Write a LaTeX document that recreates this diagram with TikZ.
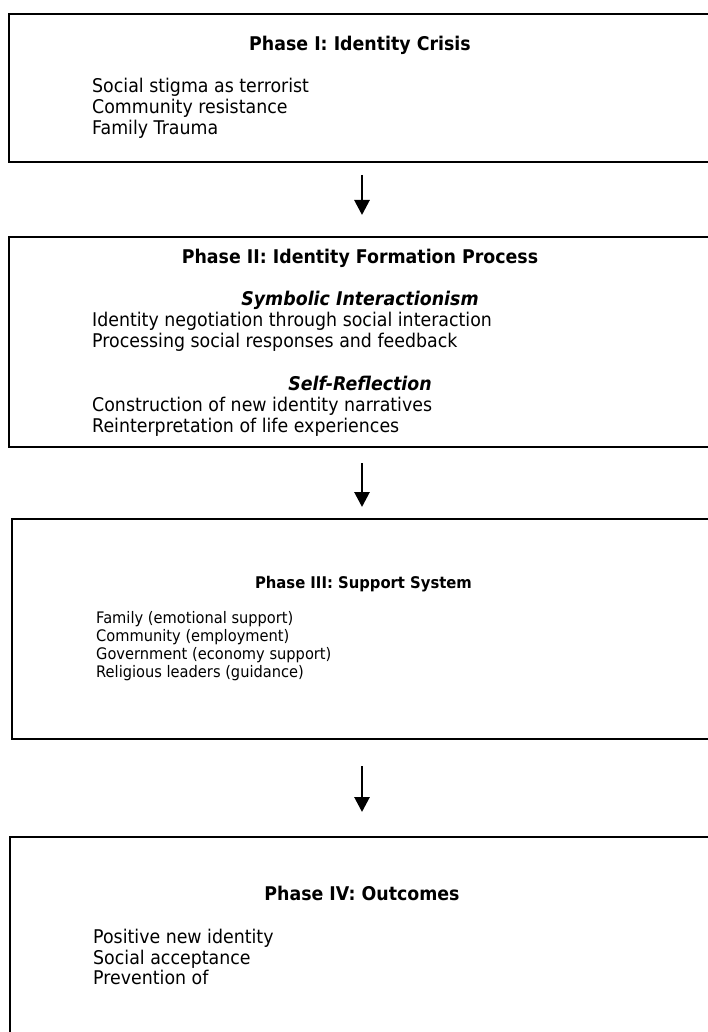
\documentclass[tikz,border=0pt]{standalone}
\usepackage{fontspec}
\setmainfont{DejaVu Sans}[FakeStretch=0.92]
\usetikzlibrary{arrows.meta}
\begin{document}
\begin{tikzpicture}[x=1pt,y=-1pt,
  phasebox/.style={draw=black, line width=2.6pt, rectangle, inner sep=0pt, outer sep=0pt, anchor=north west},
  ttl/.style={font=\bfseries\fontsize{18.9}{21}\selectfont, inner sep=0pt, anchor=base},
  sub/.style={font=\bfseries\itshape\fontsize{18.9}{21}\selectfont, inner sep=0pt, anchor=base},
  itm/.style={font=\fontsize{18.9}{21}\selectfont, inner sep=0pt, anchor=base west},
  ttlsmall/.style={font=\bfseries\fontsize{16.1}{18}\selectfont, inner sep=0pt, anchor=base},
  itmsmall/.style={font=\fontsize{15.9}{18}\selectfont, inner sep=0pt, anchor=base west},
  flow/.style={draw=black, line width=2.8pt, -{Triangle[length=15pt,width=15pt]}}]
\useasboundingbox (0,0) rectangle (708,1032);
\clip (0,0) rectangle (708,1032);

% boxes
\node[phasebox, minimum width=706pt, minimum height=148pt] (box1) at (9,14) {};
\node[phasebox, minimum width=706pt, minimum height=210pt] (box2) at (9,237) {};
\node[phasebox, minimum width=700pt, minimum height=220pt] (box3) at (12,519) {};
\node[phasebox, minimum width=704pt, minimum height=230pt] (box4) at (10,837) {};

% Phase I
\node[ttl] (t1) at (360,51) {Phase I: Identity Crisis};
\node[itm] (t1a) at (92,93) {Social stigma as terrorist};
\node[itm] (t1b) at (92,114) {Community resistance};
\node[itm] (t1c) at (92,135) {Family Trauma};

% Phase II
\node[ttl] (t2) at (360,263) {Phase II: Identity Formation Process};
\node[sub] (s2a) at (360,305) {Symbolic Interactionism};
\node[itm] (t2a) at (92,326.5) {Identity negotiation through social interaction};
\node[itm] (t2b) at (92,347) {Processing social responses and feedback};
\node[sub] (s2b) at (360,390) {Self-Reflection};
\node[itm] (t2c) at (92,411.5) {Construction of new identity narratives};
\node[itm] (t2d) at (92,432) {Reinterpretation of life experiences};

% Phase III
\node[ttlsmall] (t3) at (363.5,588) {Phase III: Support System};
\node[itmsmall] (t3a) at (96,623) {Family (emotional support)};
\node[itmsmall] (t3b) at (96,641) {Community (employment)};
\node[itmsmall] (t3c) at (96,659) {Government (economy support)};
\node[itmsmall] (t3d) at (96,677) {Religious leaders (guidance)};

% Phase IV
\node[ttl] (t4) at (362,900) {Phase IV: Outcomes};
\node[itm] (t4a) at (93,943) {Positive new identity};
\node[itm] (t4b) at (93,964) {Social acceptance};
\node[itm] (t4c) at (93,984) {Prevention of};

% arrows
\draw[flow, shorten <=13pt, shorten >=22pt] (box1.south) -- (box2.north);
\draw[flow, shorten <=16pt, shorten >=12pt] (box2.south) -- (box3.north);
\draw[flow, shorten <=27pt, shorten >=25pt] (box3.south) -- (box4.north);
\end{tikzpicture}
\end{document}
